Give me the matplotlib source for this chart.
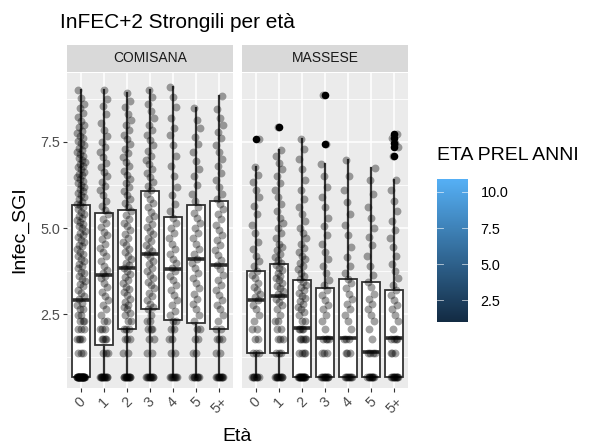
import matplotlib
matplotlib.use("Agg")
import matplotlib.pyplot as plt
import numpy as np
from matplotlib.colors import LinearSegmentedColormap

plt.rcParams['font.family'] = ['Liberation Sans', 'DejaVu Sans']

eta = ['0', '1', '2', '3', '4', '5', '5+']
razze = ['COMISANA', 'MASSESE']

# jittered points, Infec_SGI values
comisana_pts = [
    [0.69]*30 + [1.39]*3 + [1.79]*4 + [2.08]*3 + [2.30]*3 + [2.48, 2.48, 2.64, 2.64, 2.77, 2.83, 2.94,
     3.04, 3.13, 3.2, 3.31, 3.38, 3.47, 3.52, 3.61, 3.69, 3.74, 3.83, 3.9, 3.97, 4.05, 4.11, 4.2, 4.26,
     4.31, 4.4, 4.47, 4.52, 4.6, 4.66, 4.73, 4.8, 4.86, 4.93, 4.99, 5.05, 5.12, 5.17, 5.24, 5.3, 5.36,
     5.41, 5.48, 5.55, 5.6, 5.66, 5.71, 5.77, 5.84, 5.9, 5.95, 6.02, 6.08, 6.13, 6.19, 6.25, 6.3, 6.36,
     6.41, 6.47, 6.53, 6.58, 6.64, 6.7, 6.76, 6.81, 6.87, 6.92, 6.98, 7.04, 7.1, 7.15, 7.21, 7.27, 7.33,
     7.4, 7.46, 7.53, 7.6, 7.68, 7.75, 7.83, 7.92, 8.0, 8.1, 8.21, 8.33, 8.47, 8.6, 8.78, 9.02],
    [0.69]*12 + [1.39]*3 + [1.79]*4 + [2.08]*3 + [2.30]*2 + [2.48, 2.64, 2.77, 2.9, 3.02, 3.15, 3.3,
     3.41, 3.55, 3.62, 3.7, 3.78, 3.9, 4.05, 4.18, 4.3, 4.42, 4.55, 4.67, 4.8, 4.9, 5.02, 5.15, 5.27,
     5.4, 5.52, 5.65, 5.8, 5.95, 6.1, 6.22, 6.35, 6.5, 6.62, 6.78, 6.9, 7.05, 7.2, 7.36, 7.5, 7.68,
     7.85, 8.05, 8.3, 8.55, 8.75, 9.0],
    [0.69]*12 + [1.39]*2 + [1.79]*3 + [2.08]*3 + [2.30]*2 + [2.48, 2.55, 2.64, 2.7, 2.77, 2.85, 2.94,
     3.05, 3.14, 3.22, 3.3, 3.4, 3.5, 3.58, 3.66, 3.75, 3.83, 3.92, 4.0, 4.1, 4.2, 4.3, 4.4, 4.5, 4.6,
     4.72, 4.83, 4.95, 5.05, 5.15, 5.27, 5.38, 5.5, 5.6, 5.72, 5.85, 5.95, 6.07, 6.2, 6.3, 6.42, 6.55,
     6.66, 6.8, 6.92, 7.05, 7.18, 7.3, 7.44, 7.58, 7.7, 7.85, 8.0, 8.15, 8.3, 8.5, 8.7, 8.92],
    [0.69]*10 + [1.39]*2 + [1.79]*2 + [2.08]*3 + [2.30]*2 + [2.48, 2.64, 2.7, 2.8, 2.92, 3.02, 3.12,
     3.25, 3.35, 3.45, 3.55, 3.65, 3.75, 3.85, 3.95, 4.05, 4.15, 4.24, 4.33, 4.42, 4.52, 4.62, 4.72,
     4.82, 4.92, 5.03, 5.13, 5.25, 5.36, 5.48, 5.6, 5.72, 5.85, 5.98, 6.1, 6.22, 6.35, 6.48, 6.6, 6.72,
     6.85, 6.98, 7.1, 7.25, 7.4, 7.55, 7.7, 7.85, 8.0, 8.2, 8.4, 8.6, 8.8, 9.02],
    [0.69]*8 + [1.39]*2 + [1.79]*2 + [2.08]*2 + [2.30]*2 + [2.48, 2.6, 2.77, 2.9, 3.05, 3.2, 3.35,
     3.5, 3.62, 3.75, 3.85, 3.98, 4.1, 4.25, 4.4, 4.55, 4.7, 4.85, 5.0, 5.15, 5.3, 5.5, 5.7, 5.95, 6.2,
     6.5, 6.8, 7.1, 7.4, 7.7, 7.9, 8.2, 8.5, 8.8, 9.1],
    [0.69]*8 + [1.39]*2 + [1.79]*2 + [2.08]*2 + [2.30, 2.48, 2.64, 2.8, 2.95, 3.1, 3.25, 3.4, 3.55,
     3.7, 3.85, 4.0, 4.11, 4.25, 4.4, 4.55, 4.7, 4.85, 5.0, 5.15, 5.3, 5.45, 5.6, 5.8, 6.0, 6.25, 6.5,
     6.72, 6.95, 7.2, 7.45, 7.65, 7.9, 8.15, 8.47],
    [0.69]*10 + [1.39]*2 + [1.79]*3 + [2.08]*2 + [2.30, 2.48, 2.64, 2.77, 2.9, 3.05, 3.2, 3.35, 3.5,
     3.65, 3.8, 3.94, 4.08, 4.22, 4.36, 4.5, 4.65, 4.8, 4.95, 5.1, 5.25, 5.4, 5.55, 5.7, 5.85, 6.0, 6.2,
     6.4, 6.6, 6.8, 7.0, 7.2, 7.4, 7.6, 7.8, 8.0, 8.2, 8.45, 8.83],
]
massese_pts = [
    [0.69]*8 + [1.39]*3 + [1.79]*2 + [2.08]*2 + [2.30, 2.48, 2.64, 2.77, 2.9, 3.0, 3.1, 3.2, 3.3,
     3.42, 3.55, 3.65, 3.75, 3.9, 4.05, 4.2, 4.4, 4.6, 4.85, 5.1, 5.4, 5.65, 5.9, 6.1, 6.35, 6.55,
     6.77, 7.58],
    [0.69]*10 + [1.39]*3 + [1.79]*3 + [2.08]*2 + [2.30]*2 + [2.48, 2.64, 2.77, 2.85, 2.94, 3.02, 3.1,
     3.18, 3.25, 3.33, 3.4, 3.48, 3.55, 3.62, 3.7, 3.78, 3.85, 3.92, 4.0, 4.08, 4.15, 4.25, 4.35, 4.45,
     4.55, 4.7, 4.85, 5.0, 5.15, 5.3, 5.5, 5.7, 5.9, 6.1, 6.3, 6.5, 6.7, 6.9, 7.1, 7.26, 7.92],
    [0.69]*15 + [1.39]*4 + [1.79]*5 + [2.08]*4 + [2.30]*2 + [2.48, 2.56, 2.64, 2.72, 2.8, 2.88, 2.96,
     3.04, 3.12, 3.2, 3.28, 3.36, 3.44, 3.52, 3.6, 3.7, 3.8, 3.9, 4.0, 4.1, 4.2, 4.3, 4.42, 4.55, 4.7,
     4.85, 5.0, 5.2, 5.4, 5.6, 5.85, 6.1, 6.4, 6.7, 7.0, 7.3, 7.58],
    [0.69]*10 + [1.39]*3 + [1.79]*4 + [2.08, 2.30, 2.48, 2.64, 2.77, 2.9, 3.05, 3.2, 3.35, 3.5, 3.7,
     3.9, 4.1, 4.3, 4.55, 4.8, 5.05, 5.3, 5.6, 5.9, 6.2, 6.5, 6.87, 7.43, 8.86],
    [0.69]*8 + [1.39]*3 + [1.79]*3 + [2.08, 2.30, 2.48, 2.64, 2.8, 2.95, 3.1, 3.25, 3.4, 3.53, 3.7,
     3.9, 4.15, 4.45, 4.8, 5.1, 5.4, 5.75, 6.1, 6.5, 6.97],
    [0.69]*9 + [1.39]*4 + [1.79, 2.08, 2.30, 2.48, 2.64, 2.8, 2.95, 3.1, 3.3, 3.45, 3.65, 3.9, 4.2,
     4.5, 4.75, 5.0, 5.3, 5.6, 6.0, 6.4, 6.75],
    [0.69]*10 + [1.39]*3 + [1.79]*4 + [2.08, 2.30, 2.48, 2.64, 2.77, 2.9, 3.05, 3.19, 3.35, 3.55,
     3.75, 3.95, 4.2, 4.45, 4.7, 4.95, 5.2, 5.5, 5.8, 6.1, 6.39, 7.08, 7.35, 7.47, 7.62, 7.74],
]

# boxplot statistics
comisana_q1 = [0.69, 1.61, 2.08, 2.65, 2.32, 2.24, 2.08]
comisana_med = [2.90, 3.65, 3.83, 4.24, 3.80, 4.11, 3.94]
comisana_q3 = [5.68, 5.44, 5.52, 6.07, 5.32, 5.66, 5.79]
comisana_lo = [0.69, 0.69, 0.69, 0.69, 0.69, 0.69, 0.69]
comisana_hi = [9.02, 9.00, 8.92, 9.02, 9.10, 8.47, 8.83]
comisana_out = [[], [], [], [], [], [], []]

massese_q1 = [1.38, 1.38, 0.69, 0.69, 0.69, 0.69, 0.69]
massese_med = [2.90, 3.02, 2.11, 1.81, 1.81, 1.40, 1.81]
massese_q3 = [3.75, 3.97, 3.48, 3.27, 3.53, 3.45, 3.19]
massese_lo = [0.69, 0.69, 0.69, 0.69, 0.69, 0.69, 0.69]
massese_hi = [6.77, 7.26, 7.58, 6.87, 6.97, 6.75, 6.39]
massese_out = [[7.58], [7.92], [], [7.43, 8.86], [], [], [7.08, 7.35, 7.47, 7.62, 7.74]]

eta_min, eta_max = 1.0, 10.9
cbar_ticks = [2.5, 5.0, 7.5, 10.0]

W, H = 589, 448
fig = plt.figure(figsize=(W / 100, H / 100), dpi=100)

def box(x0, y0, x1, y1):
    return [x0 / W, 1 - y1 / H, (x1 - x0) / W, (y1 - y0) / H]

panels = [
    (razze[0], comisana_pts, comisana_q1, comisana_med, comisana_q3, comisana_lo, comisana_hi, comisana_out, 67),
    (razze[1], massese_pts, massese_q1, massese_med, massese_q3, massese_lo, massese_hi, massese_out, 242),
]
grey = '#333333'
txt = '#4D4D4D'
for k, (name, pts, q1, med, q3, lo, hi, out, left) in enumerate(panels):
    ax = fig.add_axes(box(left, 73, left + 166, 388))
    ax.set_facecolor('#EBEBEB')
    xs = np.arange(len(eta))
    for y in [1.25, 3.75, 6.25, 8.75]:
        ax.axhline(y, color='white', lw=0.6, zorder=0)
    for y in [2.5, 5.0, 7.5]:
        ax.axhline(y, color='white', lw=1.1, zorder=0)
    for x in xs:
        ax.axvline(x, color='white', lw=1.1, zorder=0)
    stats = [dict(q1=q1[i], med=med[i], q3=q3[i], whislo=lo[i], whishi=hi[i], fliers=[])
             for i in range(len(eta))]
    ax.bxp(stats, positions=xs, widths=0.78, patch_artist=True, showcaps=False, showfliers=False,
           boxprops=dict(facecolor='white', edgecolor=grey, lw=1.3),
           whiskerprops=dict(color=grey, lw=1.6),
           medianprops=dict(color=grey, lw=2.6), zorder=2)
    for i in range(len(eta)):
        vals = np.array(pts[i])
        off = ((np.arange(len(vals)) * 0.6180339 + 0.31 * i) % 1 - 0.5) * 0.34
        ax.scatter(xs[i] + off, vals, s=32, color='black', alpha=0.36, lw=0, zorder=3)
        if out[i]:
            ax.scatter([xs[i]] * len(out[i]), out[i], s=30, color='black', lw=0, zorder=3)
    ax.set_xlim(-0.6, 6.6)
    ax.set_ylim(0.36, 9.5)
    ax.set_xticks(xs)
    ax.set_xticklabels(eta, rotation=45, ha='center', va='top', fontsize=10.4, color=txt)
    ax.set_yticks([2.5, 5.0, 7.5])
    ax.tick_params(axis='both', length=3, color=grey, width=0.8, pad=2)
    if k == 0:
        ax.set_yticklabels(['2.5', '5.0', '7.5'], fontsize=10.4, color=txt)
    else:
        ax.set_yticklabels([])
        ax.tick_params(axis='y', length=0)
    for s in ax.spines.values():
        s.set_visible(False)
    # strip
    sax = fig.add_axes(box(left, 45, left + 166, 72))
    sax.set_facecolor('#D9D9D9')
    sax.set_xticks([])
    sax.set_yticks([])
    for s in sax.spines.values():
        s.set_visible(False)
    sax.text(0.5, 0.5, name, ha='center', va='center', fontsize=10, color='#1A1A1A',
             transform=sax.transAxes)

fig.text(60 / W, 1 - 22 / H, 'InFEC+2 Strongili per età', fontsize=15, ha='left', va='center')
fig.text(237 / W, 1 - 436 / H, 'Età', fontsize=14, ha='center', va='center')
fig.text(20 / W, 1 - 230 / H, 'Infec_SGI', fontsize=14, ha='center', va='center', rotation=90)

# colourbar
cmap = LinearSegmentedColormap.from_list('gg', ['#132B43', '#56B1F7'])
cax = fig.add_axes(box(437, 179, 468, 322))
grad = np.linspace(eta_min, eta_max, 256).reshape(-1, 1)
cax.imshow(grad, aspect='auto', cmap=cmap, origin='lower',
           extent=[0, 1, eta_min, eta_max])
cax.set_xlim(0, 1)
cax.set_ylim(eta_min, eta_max)
for t in cbar_ticks:
    cax.plot([0, 0.2], [t, t], color='white', lw=0.6, alpha=0.7)
    cax.plot([0.8, 1], [t, t], color='white', lw=0.6, alpha=0.7)
cax.set_xticks([])
cax.yaxis.tick_right()
cax.set_yticks(cbar_ticks)
cax.set_yticklabels(['%.1f' % t for t in cbar_ticks], fontsize=10.4, color='black')
cax.tick_params(axis='y', length=0, pad=9)
for s in cax.spines.values():
    s.set_visible(False)
fig.text(437 / W, 1 - 155 / H, 'ETA PREL ANNI', fontsize=14, ha='left', va='center')

fig.savefig('out.png', dpi=100)
